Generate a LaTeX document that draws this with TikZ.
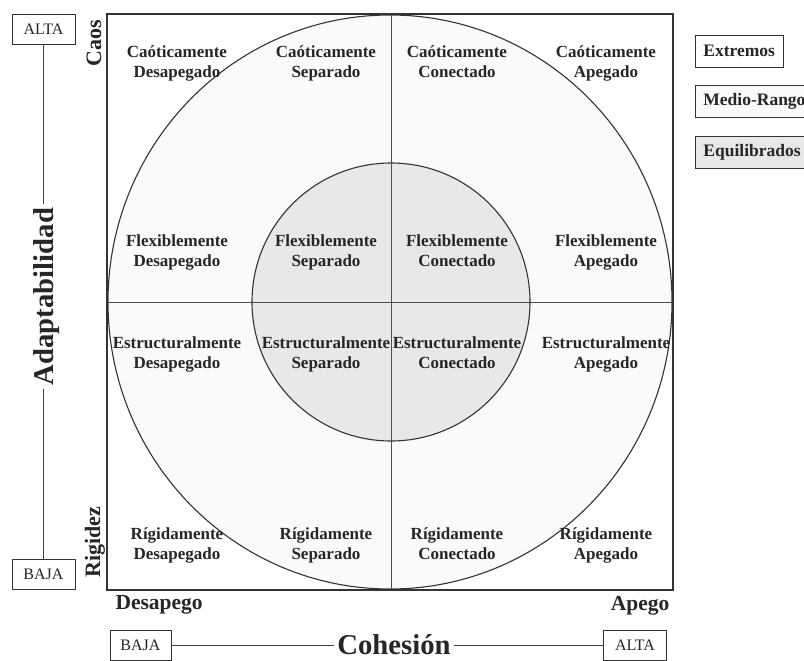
\documentclass[tikz,border=0pt]{standalone}
\usepackage{fontspec}
\setmainfont{Liberation Serif}
\usepackage{tikz}
\usetikzlibrary{positioning}

\begin{document}
\begin{tikzpicture}[
  x=1pt, y=-1pt,
  gridFrame/.style={draw=black!80, line width=1.2pt},
  divider/.style={draw=black!70, line width=0.8pt},
  ringLine/.style={draw=black!80, line width=1.1pt},
  cell/.style={font=\fontsize{17}{19.5}\selectfont\bfseries, text=black!85, align=center, inner sep=0pt},
  levelBox/.style={draw=black!80, line width=0.8pt, font=\fontsize{16}{16}\selectfont, text=black!85, minimum width=63pt, minimum height=30pt, inner sep=0pt},
  keyBox/.style={draw=black!80, line width=0.8pt, font=\fontsize{17.5}{17.5}\selectfont\bfseries, text=black!85, minimum height=32pt, inner xsep=8pt, inner ysep=0pt},
  axisLabel/.style={font=\fontsize{28.7}{28.7}\selectfont\bfseries, text=black!85},
  poleLabel/.style={font=\fontsize{22}{22}\selectfont\bfseries, text=black!85},
  axisLine/.style={draw=black!75, line width=0.8pt},
]

\useasboundingbox (0,0) rectangle (804,661);
\clip (0,0) rectangle (804,661);
\fill[white] (0,0) rectangle (804,661);

% mid-range ring and balanced core
\fill[black!2] (390,302) ellipse [x radius=282, y radius=287];
\fill[black!9] (391,302) circle [radius=139];
\draw[ringLine] (390,302) ellipse [x radius=282, y radius=287];
\draw[ringLine] (391,302) circle [radius=139];

% quadrant dividers and frame
\draw[divider] (107,302) -- (673,302);
\draw[divider] (391,14) -- (391,590);
\draw[gridFrame] (107,14) rectangle (673,590);

% 16 family types (rows: adaptability, columns: cohesion)
\foreach \row/\y/\adv in {1/62/Caóticamente,2/251/Flexiblemente,3/353/Estructuralmente,4/544/Rígidamente} {
  \foreach \col/\x/\kind in {1/177/Desapegado,2/326/Separado,3/457/Conectado,4/606/Apegado} {
    \node[cell] (cell\row\col) at (\x,\y) {\adv\vphantom{Óp}\\\kind\vphantom{Óp}};
  }
}

% adaptability axis
\node[levelBox] (adaptHigh) at (43.5,29) {ALTA};
\node[levelBox] (adaptLow) at (43.5,574) {BAJA};
\node[axisLabel, rotate=90] (adapt) at (46.5,296.5) {Adaptabilidad};
\draw[axisLine] (adaptHigh.south) -- (adaptHigh.south |- adapt.east);
\draw[axisLine] (adaptLow.north |- adapt.west) -- (adaptLow.north);

\node[poleLabel, rotate=90] (chaos) at (94,43) {Caos};
\node[poleLabel, rotate=90] (rigid) at (95,542) {Rigidez};

% cohesion axis
\node[poleLabel, font=\fontsize{21.5}{21.5}\selectfont\bfseries, anchor=base west] (detach) at (112,609) {Desapego};
\node[poleLabel, font=\fontsize{21.5}{21.5}\selectfont\bfseries, anchor=base east] (attach) at (673,610) {Apego};

\node[levelBox, minimum width=61pt] (cohLow) at (140.5,645) {BAJA};
\node[levelBox] (cohHigh) at (635,645) {ALTA};
\node[axisLabel] (cohes) at (394,645) {Cohesión};
\draw[axisLine] (cohLow.east) -- (cohes.west);
\draw[axisLine] (cohes.east) -- (cohHigh.west);

% legend
\node[keyBox, anchor=west] (keyExtreme) at (695,51) {Extremos};
\node[keyBox, fill=black!2, below=18pt of keyExtreme.south west, anchor=north west] (keyMid) {Medio-Rango};
\node[keyBox, fill=black!9, below=18pt of keyMid.south west, anchor=north west] (keyBalanced) {Equilibrados};

\end{tikzpicture}
\end{document}
